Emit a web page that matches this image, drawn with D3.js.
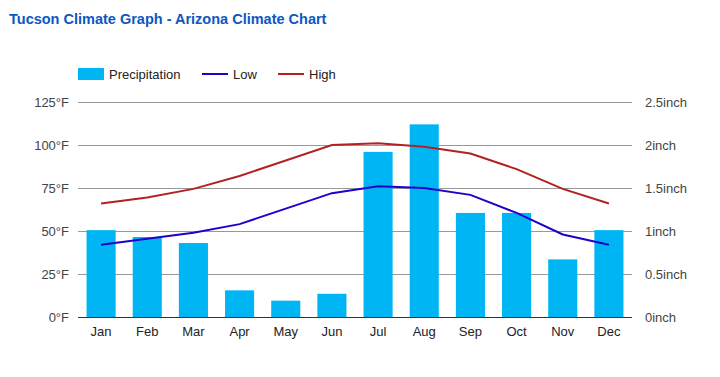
<!DOCTYPE html>
<html>
<head>
<meta charset="utf-8">
<script src="https://cdn.jsdelivr.net/npm/d3@7"></script>
<style>
  body { margin: 0; background: #fff; }
  svg { font-family: "Liberation Sans", Arial, sans-serif; }
</style>
</head>
<body>
<script>
// tucson climate - bars for rain, lines for temps

const months = ['Jan', 'Feb', 'Mar', 'Apr', 'May', 'Jun', 'Jul', 'Aug', 'Sep', 'Oct', 'Nov', 'Dec'];
const precip = [1.01, 0.93, 0.86, 0.31, 0.19, 0.27, 1.92, 2.24, 1.21, 1.21, 0.67, 1.01];
const lowTemps = [42, 45.5, 49, 54, 63, 72, 76, 75, 71, 60.5, 48, 42];
const highTemps = [66, 69.5, 74.5, 82, 91, 100, 101, 99, 95, 86, 74.5, 66];
const tempTicks = [0, 25, 50, 75, 100, 125];
const rainTicks = [0, 0.5, 1, 1.5, 2, 2.5];

const svgWidth = 720;
const svgHeight = 377;
const plotLeft = 78, plotRight = 632, plotTop = 102, plotBottom = 317;

const svg = d3.select('body').append('svg')
  .attr('width', svgWidth)
  .attr('height', svgHeight);

const xScale = d3.scaleBand()
  .domain(months)
  .range([plotLeft, plotRight])
  .paddingInner(0.37)
  .paddingOuter(0.185);

const yTemp = d3.scaleLinear().domain([0, 125]).range([plotBottom, plotTop]);
const yRain = d3.scaleLinear().domain([0, 2.5]).range([plotBottom, plotTop]);

// title
svg.append('text')
  .attr('x', 9)
  .attr('y', 24)
  .attr('fill', '#0b57c4')
  .attr('font-weight', 'bold')
  .attr('font-size', 14.5)
  .text('Tucson Climate Graph - Arizona Climate Chart');

// gridlines
svg.append('g')
  .selectAll('line')
  .data(tempTicks.slice(1))
  .enter()
  .append('line')
  .attr('x1', plotLeft).attr('x2', plotRight)
  .attr('y1', d => yTemp(d) + 0.5).attr('y2', d => yTemp(d) + 0.5)
  .attr('stroke', '#999')
  .attr('stroke-width', 1);

// left axis
const yLeft = d3.axisLeft(yTemp)
  .tickValues(tempTicks)
  .tickSize(0)
  .tickPadding(9)
  .tickFormat(d => d + '°F');
svg.append('g')
  .attr('transform', `translate(${plotLeft},0)`)
  .call(yLeft)
  .call(g => g.select('.domain').remove())
  .call(g => g.selectAll('text').attr('fill', '#444').attr('font-size', 13).attr('font-family', null));

// right axis
const yRight = d3.axisRight(yRain)
  .tickValues(rainTicks)
  .tickSize(0)
  .tickPadding(13)
  .tickFormat(d => d + 'inch');
svg.append('g')
  .attr('transform', `translate(${plotRight},0)`)
  .call(yRight)
  .call(g => g.select('.domain').remove())
  .call(g => g.selectAll('text').attr('fill', '#444').attr('font-size', 13).attr('font-family', null));

// bars
svg.append('g')
  .selectAll('rect')
  .data(precip)
  .enter()
  .append('rect')
  .attr('x', (d, i) => xScale(months[i]))
  .attr('width', xScale.bandwidth())
  .attr('y', d => yRain(d))
  .attr('height', d => yRain(0) - yRain(d))
  .attr('fill', '#00b5f3');

// baseline
svg.append('line')
  .attr('x1', plotLeft).attr('x2', plotRight)
  .attr('y1', plotBottom + 0.5).attr('y2', plotBottom + 0.5)
  .attr('stroke', '#333');

// x axis labels
const xAxis = d3.axisBottom(xScale).tickSize(0).tickPadding(10);
svg.append('g')
  .attr('transform', `translate(0,${plotBottom})`)
  .call(xAxis)
  .call(g => g.select('.domain').remove())
  .call(g => g.selectAll('text').attr('fill', '#222').attr('font-size', 13).attr('font-family', null));

// temp lines (straight segments)
const cx = (d, i) => xScale(months[i]) + xScale.bandwidth() / 2;
const line = d3.line()
  .x(cx)
  .y(d => yTemp(d));

svg.append('path')
  .attr('d', line(highTemps))
  .attr('fill', 'none')
  .attr('stroke', '#b22222')
  .attr('stroke-width', 2);

svg.append('path')
  .attr('d', line(lowTemps))
  .attr('fill', 'none')
  .attr('stroke', '#2200cc')
  .attr('stroke-width', 2);

// legend
const legend = svg.append('g').attr('font-size', 13).attr('fill', '#222');
legend.append('rect')
  .attr('x', 78).attr('y', 68).attr('width', 26).attr('height', 12)
  .attr('fill', '#00b5f3');
legend.append('text').attr('x', 109).attr('y', 79).text('Precipitation');
legend.append('line')
  .attr('x1', 202).attr('x2', 228).attr('y1', 74).attr('y2', 74)
  .attr('stroke', '#2200cc').attr('stroke-width', 2);
legend.append('text').attr('x', 233).attr('y', 79).text('Low');
legend.append('line')
  .attr('x1', 278).attr('x2', 304).attr('y1', 74).attr('y2', 74)
  .attr('stroke', '#b22222').attr('stroke-width', 2);
legend.append('text').attr('x', 309).attr('y', 79).text('High');
</script>
</body>
</html>
